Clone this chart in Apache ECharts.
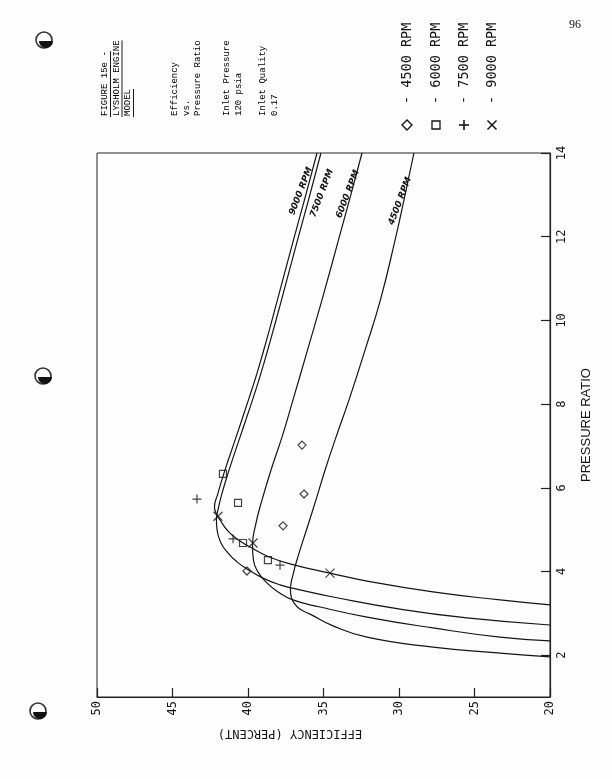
<!DOCTYPE html>
<html><head><meta charset="utf-8">
<script src="https://cdn.jsdelivr.net/npm/echarts@6/dist/echarts.min.js"></script>
<style>html,body{margin:0;padding:0;background:#fdfdfd;} #c{width:612px;height:779px;}</style>
</head><body><div id="c"></div>
<script>
// ---- data (efficiency %, pressure ratio) ----
const effTicks = [20, 25, 30, 35, 40, 45, 50];
const prTicks = [2, 4, 6, 8, 10, 12, 14];
const rpmNames = ['4500 RPM', '6000 RPM', '7500 RPM', '9000 RPM'];

// model curves
const c9000PR  = [14, 12.88, 11.92, 10.49, 9.53, 8.74, 8.10, 7.21, 6.35, 5.83, 5.54, 5.40, 5.23, 4.94, 4.73, 4.56, 4.37, 4.18, 3.96, 3.77, 3.51, 3.32, 3.20];
const c9000Eff = [35.43, 36.26, 36.99, 38.05, 38.77, 39.40, 39.97, 40.79, 41.59, 42.02, 42.22, 42.12, 41.85, 41.26, 40.53, 39.74, 38.74, 37.22, 34.57, 32.12, 27.75, 23.31, 20];
const c7500PR  = [14, 12.88, 11.92, 10.49, 9.53, 8.74, 8.10, 7.21, 6.35, 5.83, 5.47, 5.23, 4.99, 4.68, 4.44, 4.23, 4.06, 3.84, 3.68, 3.56, 3.39, 3.10, 2.89, 2.72];
const c7500Eff = [35.17, 35.99, 36.72, 37.78, 38.51, 39.14, 39.70, 40.53, 41.32, 41.75, 41.99, 42.09, 42.05, 41.79, 41.32, 40.73, 40.07, 39.01, 37.88, 36.56, 34.37, 29.93, 25.50, 20];
const c6000PR  = [14, 12.88, 11.92, 10.49, 9.29, 8.10, 7.21, 6.42, 5.71, 5.11, 4.63, 4.27, 3.99, 3.75, 3.51, 3.32, 3.15, 2.91, 2.65, 2.43, 2.34];
const c6000Eff = [32.45, 33.28, 34.01, 35.10, 36.06, 37.02, 37.75, 38.48, 39.07, 39.50, 39.70, 39.64, 39.34, 38.81, 38.01, 37.02, 35.23, 32.12, 27.75, 23.31, 20];
const c4500PR  = [14, 12.88, 11.92, 10.49, 9.29, 8.10, 7.21, 6.42, 5.71, 4.99, 4.39, 3.92, 3.56, 3.37, 3.22, 3.10, 2.98, 2.70, 2.43, 2.19, 2.05, 1.96];
const c4500Eff = [29.01, 29.67, 30.26, 31.23, 32.25, 33.31, 34.17, 34.90, 35.50, 36.13, 36.66, 37.02, 37.19, 37.12, 36.89, 36.56, 35.89, 34.37, 32.12, 27.75, 23.31, 20];

// measured points
const p4500PR  = [7.02, 5.85, 5.09, 4.01];
const p4500Eff = [36.42, 36.29, 37.68, 40.07];
const p6000PR  = [6.33, 5.64, 4.68, 4.27];
const p6000Eff = [41.66, 40.66, 40.33, 38.68];
const p7500PR  = [5.73, 4.78, 4.15];
const p7500Eff = [43.38, 40.99, 37.88];
const p9000PR  = [5.32, 4.68, 3.96];
const p9000Eff = [41.99, 39.67, 34.57];

// ---- chart ----
const pairs = (effs, prs) => effs.map((e, i) => [e, prs[i]]);
const INK = '#141414';
const MONO = 'DejaVu Sans Mono';
const TYPE = 'Liberation Mono';

function curve(name, effs, prs, labelCoord) {
  return {
    name: name, type: 'line', data: pairs(effs, prs), smooth: 0.5,
    symbol: 'none', lineStyle: { color: INK, width: 1.2 }, z: 3,
    markPoint: {
      symbol: 'circle', symbolSize: 0, silent: true,
      data: [{ coord: labelCoord }],
      label: { show: true, position: 'inside', formatter: name, rotate: 69,
        fontFamily: 'DejaVu Sans', fontStyle: 'italic', fontWeight: 'bold', fontSize: 9, color: INK }
    }
  };
}
const hollow = { color: 'rgba(0,0,0,0)', borderColor: INK, borderWidth: 1.2 };
function pts(name, effs, prs, symbol, size) {
  return { name: name, type: 'scatter', data: pairs(effs, prs), symbol: symbol,
    symbolSize: size, itemStyle: hollow, z: 4 };
}

const graphics = [];
// binder holes
[[44, 40], [43, 376], [38, 711]].forEach(function (h) {
  graphics.push({ type: 'circle', shape: { cx: h[0], cy: h[1], r: 8 }, style: { fill: 'none', stroke: '#333', lineWidth: 1.6 } });
  graphics.push({ type: 'sector', shape: { cx: h[0] + 2, cy: h[1] + 1, r: 7, r0: 0, startAngle: 0, endAngle: Math.PI }, style: { fill: '#111' } });
});
// page number
graphics.push({ type: 'text', x: 575, y: 25, style: { text: '96', font: '12px "Liberation Serif"', fill: INK, textAlign: 'center', textVerticalAlign: 'middle' } });
// title block (rotated, typewriter)
const titleCols = [
  [105, 'FIGURE 15e -', true], [116.5, 'LYSHOLM ENGINE', true], [128, 'MODEL', true],
  [175, 'Efficiency', false], [186.5, 'vs.', false], [198, 'Pressure Ratio', false],
  [227, 'Inlet Pressure', false], [238.5, '120 psia', false],
  [263, 'Inlet Quality', false], [274.5, '0.17', false]
];
titleCols.forEach(function (c) {
  graphics.push({ type: 'text', x: c[0], y: 116, rotation: Math.PI / 2,
    style: { text: c[1], font: '9px "' + TYPE + '"', fill: '#000', textAlign: 'left', textVerticalAlign: 'middle' } });
  if (c[2]) {
    graphics.push({ type: 'line', shape: { x1: c[0] + 5.5, y1: 117, x2: c[0] + 5.5, y2: 116 - c[1].length * 5.4 }, style: { stroke: '#000', lineWidth: 0.9 } });
  }
});
// legend (rotated)
const legX = [407, 436, 464, 492];
legX.forEach(function (x, i) {
  const cy = 125;
  if (i === 0) graphics.push({ type: 'polygon', shape: { points: [[x, cy - 5], [x + 5, cy], [x, cy + 5], [x - 5, cy]] }, style: { fill: 'none', stroke: INK, lineWidth: 1.4 } });
  if (i === 1) graphics.push({ type: 'rect', shape: { x: x - 4, y: cy - 4, width: 8, height: 8 }, style: { fill: 'none', stroke: INK, lineWidth: 1.3 } });
  if (i === 2) {
    graphics.push({ type: 'line', shape: { x1: x - 5, y1: cy, x2: x + 5, y2: cy }, style: { stroke: INK, lineWidth: 1.6 } });
    graphics.push({ type: 'line', shape: { x1: x, y1: cy - 5, x2: x, y2: cy + 5 }, style: { stroke: INK, lineWidth: 1.6 } });
  }
  if (i === 3) {
    graphics.push({ type: 'line', shape: { x1: x - 4.5, y1: cy - 4.5, x2: x + 4.5, y2: cy + 4.5 }, style: { stroke: INK, lineWidth: 1.5 } });
    graphics.push({ type: 'line', shape: { x1: x + 4.5, y1: cy - 4.5, x2: x - 4.5, y2: cy + 4.5 }, style: { stroke: INK, lineWidth: 1.5 } });
  }
  graphics.push({ type: 'text', x: x, y: 104, rotation: Math.PI / 2,
    style: { text: '- ' + rpmNames[i], font: '13.5px "' + MONO + '"', fill: INK, textAlign: 'left', textVerticalAlign: 'middle' } });
});
// efficiency axis title (upside down as in the rotated page)
graphics.push({ type: 'text', x: 290, y: 733, rotation: Math.PI,
  style: { text: 'EFFICIENCY (PERCENT)', font: '12px "' + MONO + '"', fill: INK, textAlign: 'center', textVerticalAlign: 'middle' } });

const chart = echarts.init(document.getElementById('c'));
chart.setOption({
  animation: false,
  backgroundColor: '#fdfdfd',
  grid: { left: 97, right: 62, top: 153, bottom: 82, show: true, borderColor: '#222', borderWidth: 1 },
  xAxis: {
    type: 'value', min: 20, max: 50, interval: 5, inverse: true, position: 'bottom',
    axisLine: { show: true, lineStyle: { color: '#222', width: 1.2 } },
    axisTick: { show: true, inside: true, length: 9, customValues: effTicks, lineStyle: { color: '#222', width: 1.2 } },
    axisLabel: { rotate: 90, margin: 4, fontFamily: MONO, fontSize: 12, color: INK, customValues: effTicks },
    splitLine: { show: false }
  },
  yAxis: {
    type: 'value', min: 1, max: 14, position: 'right',
    axisLine: { show: true, onZero: false, lineStyle: { color: '#222', width: 1.2 } },
    axisTick: { show: true, inside: true, length: 9, customValues: prTicks, lineStyle: { color: '#222', width: 1.2 } },
    axisLabel: { rotate: 90, margin: 6, fontFamily: MONO, fontSize: 12, color: INK, customValues: prTicks },
    splitLine: { show: false },
    name: 'PRESSURE RATIO', nameLocation: 'middle', nameRotate: 90, nameGap: 30,
    nameTextStyle: { fontFamily: 'Liberation Sans', fontSize: 13, color: INK }
  },
  graphic: graphics,
  series: [
    curve('9000 RPM', c9000Eff, c9000PR, [36.49, 13.09]),
    curve('7500 RPM', c7500Eff, c7500PR, [35.1, 13.04]),
    curve('6000 RPM', c6000Eff, c6000PR, [33.38, 13.02]),
    curve('4500 RPM', c4500Eff, c4500PR, [29.93, 12.85]),
    pts('4500 RPM pts', p4500Eff, p4500PR, 'diamond', 8),
    pts('6000 RPM pts', p6000Eff, p6000PR, 'rect', 7),
    pts('7500 RPM pts', p7500Eff, p7500PR, 'path://M5,0L5,10M0,5L10,5', 9),
    pts('9000 RPM pts', p9000Eff, p9000PR, 'path://M0,0L10,10M10,0L0,10', 9)
  ]
});
</script>
</body></html>
